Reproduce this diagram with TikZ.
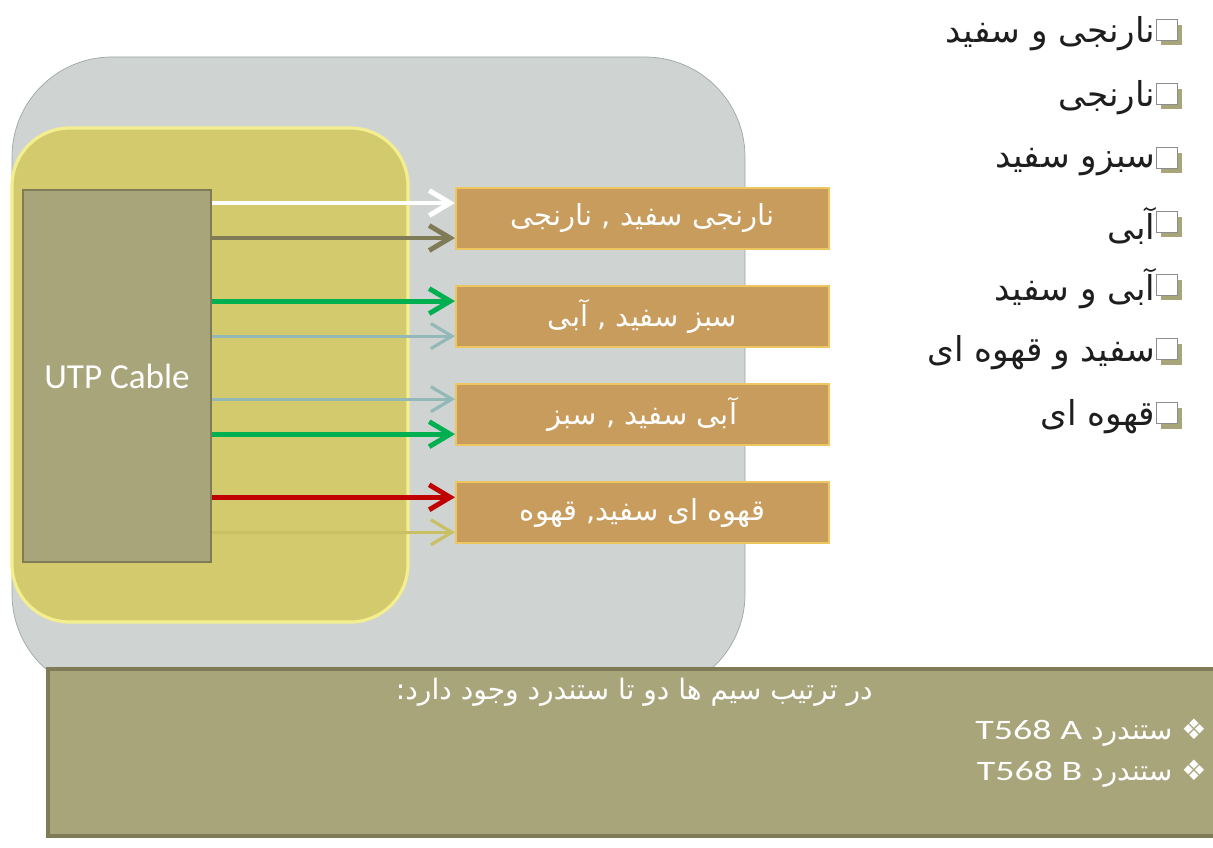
\documentclass[tikz,border=0pt]{standalone}
\usepackage{fontspec}
\setmainfont{Carlito}
\newfontfamily\farsi[Script=Arabic]{DejaVu Sans}
\newfontfamily\wide[FakeStretch=1.35]{Carlito}
\TeXXeTstate=1
\usepackage{xcolor}
\definecolor{panel}{HTML}{CFD3D2}
\definecolor{panelline}{HTML}{9CA8A7}
\definecolor{sand}{HTML}{D3CA6D}
\definecolor{sandline}{HTML}{F4EF8E}
\definecolor{khaki}{HTML}{A8A57B}
\definecolor{khakiline}{HTML}{7F7B57}
\definecolor{copper}{HTML}{C89C5C}
\definecolor{copperline}{HTML}{EEC660}
\definecolor{wgreen}{HTML}{00B050}
\definecolor{wred}{HTML}{C00000}
\definecolor{wblue}{HTML}{93B8B8}
\definecolor{wolive}{HTML}{7F7B57}
\definecolor{wyellow}{HTML}{C8C062}
\definecolor{ink}{HTML}{1E1E1E}
\usetikzlibrary{arrows.meta, positioning, shadows}

\begin{document}
\begin{tikzpicture}[x=0.02cm, y=-0.02cm,
  pair/.style={draw=copperline, fill=copper, line width=1.2pt,
               minimum width=7.46cm, minimum height=1.22cm, text=white,
               font=\farsi\fontsize{16.5}{19}\selectfont},
  wire/.style={line width=2.8pt, -{Straight Barb[length=0.42cm, width=0.5cm]}},
  thinwire/.style={line width=1.8pt, -{Straight Barb[length=0.42cm, width=0.5cm]}},
  chk/.style={draw=black!45, fill=white, line width=0.5pt, minimum size=0.42cm,
              inner sep=0pt, general shadow={shadow xshift=0.1cm,
              shadow yshift=-0.1cm, fill=khaki}},
  item/.style={anchor=east, inner sep=0pt, text=ink,
               font=\farsi\fontsize{19.5}{23}\selectfont}]
  \useasboundingbox[fill=white] (0,0) rectangle (1213,848);
  \clip (0,0) rectangle (1213,848);

  % backgrounds
  \draw[panelline, fill=panel, rounded corners=2cm] (12,57) rectangle (745,694);
  \draw[sandline, fill=sand, line width=1.8pt, rounded corners=1.15cm] (12,128) rectangle (408,622);

  \node[draw=khakiline, fill=khaki, line width=1.6pt, minimum width=3.76cm,
        minimum height=7.44cm, text=white, font=\fontsize{20}{24}\selectfont]
        (utp) at (117,376) {UTP Cable};

  % wire pairs
  \node[pair] (p1) at (642.5,218.5) {\beginR نارنجی سفید , نارنجی\endR};
  \node[pair, below=0.7cm of p1] (p2) {\beginR سبز سفید , آبی\endR};
  \node[pair, below=0.7cm of p2] (p3) {\beginR آبی سفید , سبز\endR};
  \node[pair, below=0.7cm of p3] (p4) {\beginR قهوه ای سفید, قهوه\endR};

  \coordinate (a1) at ([yshift=0.31cm]p1.west);
  \coordinate (b1) at ([yshift=-0.39cm]p1.west);
  \coordinate (a2) at ([yshift=0.31cm]p2.west);
  \coordinate (b2) at ([yshift=-0.39cm]p2.west);
  \coordinate (a3) at ([yshift=0.31cm]p3.west);
  \coordinate (b3) at ([yshift=-0.39cm]p3.west);
  \coordinate (a4) at ([yshift=0.31cm]p4.west);
  \coordinate (b4) at ([yshift=-0.39cm]p4.west);

  \draw[wire, white] (utp.east |- a1) -- (a1);
  \draw[wire, wolive] (utp.east |- b1) -- (b1);
  \draw[wire, wgreen] (utp.east |- a2) -- (a2);
  \draw[thinwire, wblue] (utp.east |- b2) -- (b2);
  \draw[thinwire, wblue] (utp.east |- a3) -- (a3);
  \draw[wire, wgreen] (utp.east |- b3) -- (b3);
  \draw[wire, wred] (utp.east |- a4) -- (a4);
  \draw[thinwire, wyellow] (utp.east |- b4) -- (b4);

  % colour list
  \node[chk] (c1) at (1166.5,30) {};
  \node[chk] (c2) at (1166.5,94) {};
  \node[chk] (c3) at (1166.5,158) {};
  \node[chk] (c4) at (1166.5,222) {};
  \node[chk] (c5) at (1166.5,285) {};
  \node[chk] (c6) at (1166.5,349) {};
  \node[chk] (c7) at (1166.5,413) {};
  \node[item] (t1) at ([yshift=-0.08cm]c1.west) {\beginR نارنجی و سفید\endR};
  \node[item] (t2) at ([yshift=-0.08cm]c2.west) {\beginR نارنجی\endR};
  \node[item] (t3) at ([yshift=-0.08cm]c3.west) {\beginR سبزو سفید\endR};
  \node[item] (t4) at ([yshift=-0.08cm]c4.west) {\beginR آبی\endR};
  \node[item] (t5) at ([yshift=-0.08cm]c5.west) {\beginR آبی و سفید\endR};
  \node[item] (t6) at ([yshift=-0.08cm]c6.west) {\beginR سفید و قهوه ای\endR};
  \node[item] (t7) at ([yshift=-0.08cm]c7.west) {\beginR قهوه ای\endR};

  % standards
  \draw[khakiline, fill=khaki, line width=1.8pt] (48,669) rectangle (1230,836);
  \node[anchor=east, inner sep=0pt, text=white, font=\farsi\fontsize{16}{19}\selectfont]
        (s0) at (873,692) {\beginR در ترتیب سیم ها دو تا ستندرد وجود دارد:\endR};
  \node[anchor=east, inner sep=0pt, text=white, font=\farsi\fontsize{16}{19}\selectfont]
        (s1) at (1207,733) {\beginR ❖ ستندرد \beginL{\wide\fontsize{16}{19}\selectfont T568 A}\endL\endR};
  \node[anchor=east, inner sep=0pt, text=white, font=\farsi\fontsize{16}{19}\selectfont]
        (s2) at (1207,774) {\beginR ❖ ستندرد \beginL{\wide\fontsize{16}{19}\selectfont T568 B}\endL\endR};
\end{tikzpicture}
\end{document}
